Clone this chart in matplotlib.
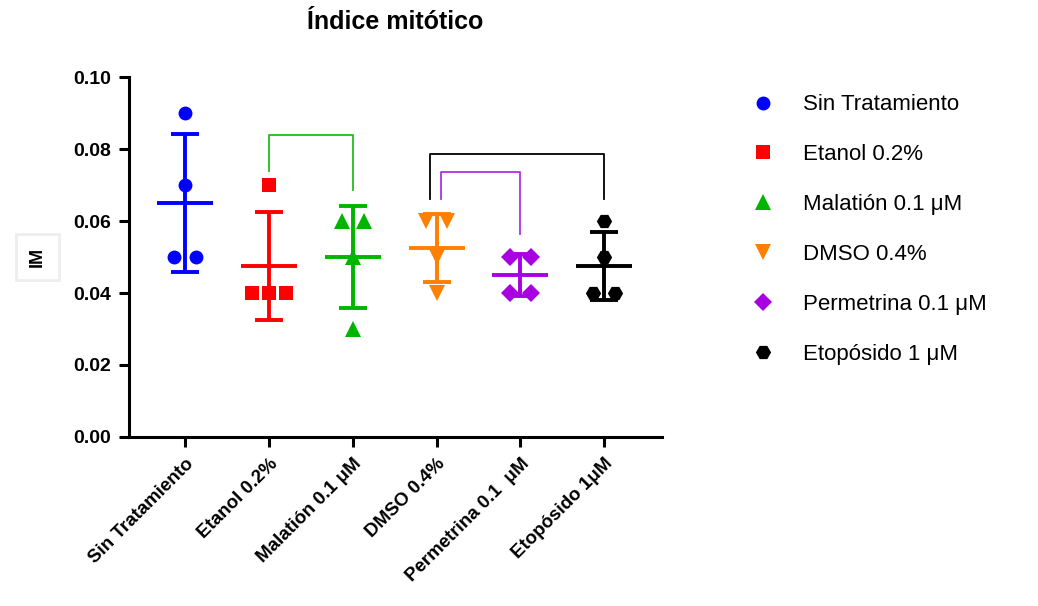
import numpy as np
import matplotlib
matplotlib.use("Agg")
import matplotlib.pyplot as plt

plt.rcParams['font.family'] = ['Liberation Sans', 'DejaVu Sans']

# datos
grupos = ["Sin Tratamiento", "Etanol 0.2%", "Malatión 0.1 μM",
          "DMSO 0.4%", "Permetrina 0.1 μM", "Etopósido 1 μM"]
etiquetas_x = ["Sin Tratamiento", "Etanol 0.2%", "Malatión 0.1 μM",
               "DMSO 0.4%", "Permetrina 0.1  μM", "Etopósido 1μM"]

sin_trat = [0.09, 0.07, 0.05, 0.05]
etanol = [0.07, 0.04, 0.04, 0.04]
malation = [0.06, 0.06, 0.05, 0.03]
dmso = [0.06, 0.06, 0.05, 0.04]
permetrina = [0.05, 0.05, 0.04, 0.04]
etoposido = [0.06, 0.05, 0.04, 0.04]
valores = [sin_trat, etanol, malation, dmso, permetrina, etoposido]

# comparaciones (corchetes)
comparaciones = [(1, 2), (3, 5), (3, 4)]
altura_corchete = [0.0838, 0.0785, 0.0735]
pata_izq = [0.0738, 0.0662, 0.0662]
pata_der = [0.0685, 0.0662, 0.0565]

colores = ["#0000ff", "#ff0000", "#00b400", "#ff8000", "#a800e0", "#000000"]
marcadores = ["o", "s", "^", "v", "D", "H"]
tam = [10, 10.5, 12, 12, 9.5, 11]
colores_corchete = ["#22bb22", "#000000", "#b030e0"]
desplaz_izq = [0, -0.08, 0.05]


def dispersar(vals):
    # separa horizontalmente los puntos repetidos
    x = np.zeros(len(vals))
    for v in set(vals):
        idx = [i for i, w in enumerate(vals) if w == v]
        n = len(idx)
        paso = 0.2 if n > 2 else 0.26
        x[idx] = (np.arange(n) - (n - 1) / 2) * paso
    return x


fig = plt.figure(figsize=(10.38, 6.06), dpi=100)
ax = fig.add_axes([0.1243, 0.2789, 0.5135, 0.594])

for i, vals in enumerate(valores):
    vals = np.array(vals)
    m = vals.mean()
    s = vals.std(ddof=1)
    c = colores[i]
    ax.vlines(i, m - s, m + s, color=c, lw=2.8, zorder=2)
    ax.hlines(m, i - 0.333, i + 0.333, color=c, lw=2.8, zorder=2)
    ax.hlines([m - s, m + s], i - 0.167, i + 0.167, color=c, lw=2.8, zorder=2)
    ax.plot(i + dispersar(list(vals)), vals, linestyle="none", marker=marcadores[i],
            color=c, markersize=tam[i], markeredgewidth=0, label=grupos[i], zorder=3)

for k, (a, b) in enumerate(comparaciones):
    xa = a + desplaz_izq[k]
    ax.plot([xa, xa, b, b], [pata_izq[k], altura_corchete[k], altura_corchete[k], pata_der[k]],
            color=colores_corchete[k], lw=1.3, zorder=1)

ax.set_xlim(-0.67, 5.69)
ax.set_ylim(0, 0.10)
ax.set_yticks([0, 0.02, 0.04, 0.06, 0.08, 0.10])
ax.set_yticklabels(["0.00", "0.02", "0.04", "0.06", "0.08", "0.10"],
                   fontsize=14, fontweight="bold")
ax.set_xticks(range(len(grupos)))
ax.set_xticklabels(etiquetas_x, rotation=45, ha="right", va="top",
                   rotation_mode="anchor", fontsize=13.5, fontweight="bold")

ax.spines["top"].set_visible(False)
ax.spines["right"].set_visible(False)
ax.spines["left"].set_linewidth(2.2)
ax.spines["bottom"].set_linewidth(2.2)
ax.tick_params(axis="both", direction="out", length=7, width=2.2, pad=6)

fig.text(0.3805, 0.963, "Índice mitótico", ha="center", va="center",
         fontsize=18, fontweight="bold")
fig.text(0.036, 0.5757, "IM", ha="center", va="center", rotation=90,
         fontsize=13, fontweight="bold",
         bbox=dict(boxstyle="square,pad=0.7", facecolor="white",
                   edgecolor="#eeeeee", linewidth=2))

fig.legend(loc="upper left", bbox_to_anchor=(0.716, 0.859), frameon=False,
           fontsize=16, handlelength=1.0, handletextpad=1.3, labelspacing=1.3,
           borderaxespad=0, numpoints=1)

fig.savefig("out.png", dpi=100)
